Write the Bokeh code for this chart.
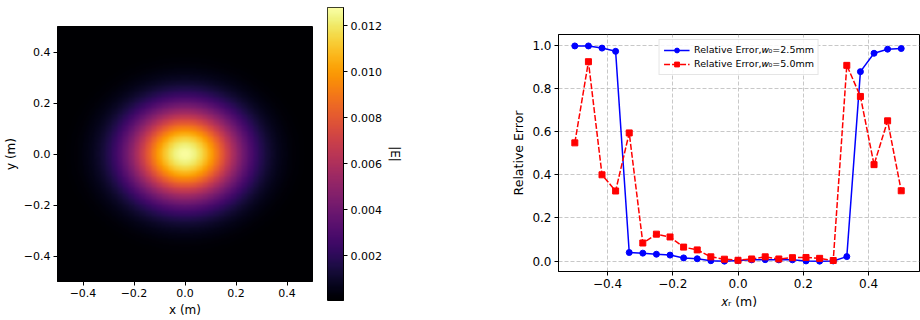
import numpy as np
from bokeh.plotting import figure
from bokeh.layouts import row, column
from bokeh.models import (Range1d, LinearColorMapper, FixedTicker, Legend)
from bokeh.palettes import Inferno256
from bokeh.embed import file_html
from bokeh.resources import INLINE

# ---- beam field parameters (|E| map) ----
field_peak = 0.0127
waist_x = 0.215
waist_y = 0.18
field_floor = 0.00005

# ---- relative error along x_r ----
x_r = [-0.5, -0.4583, -0.4167, -0.375, -0.3333, -0.2917, -0.25, -0.2083,
       -0.1667, -0.125, -0.0833, -0.0417, 0.0, 0.0417, 0.0833, 0.125,
       0.1667, 0.2083, 0.25, 0.2917, 0.3333, 0.375, 0.4167, 0.4583, 0.5]
err_w25 = [0.997, 0.997, 0.987, 0.972, 0.040, 0.037, 0.032, 0.028,
           0.015, 0.011, 0.002, 0.000, 0.003, 0.006, 0.007, 0.006,
           0.006, 0.001, 0.000, 0.001, 0.021, 0.878, 0.963, 0.982, 0.985]
err_w50 = [0.548, 0.924, 0.400, 0.325, 0.594, 0.084, 0.125, 0.112,
           0.065, 0.052, 0.020, 0.009, 0.004, 0.010, 0.020, 0.010,
           0.016, 0.017, 0.013, 0.003, 0.907, 0.763, 0.447, 0.650, 0.326]

map_ticks = [-0.4, -0.2, 0.0, 0.2, 0.4]
cbar_ticks = [0.002, 0.004, 0.006, 0.008, 0.010, 0.012]
err_x_ticks = [-0.4, -0.2, 0.0, 0.2, 0.4]
err_y_ticks = [0.0, 0.2, 0.4, 0.6, 0.8, 1.0]

FONT = "DejaVu Sans"


def fmt(v, nd=1):
    s = f"{v:.{nd}f}"
    return s.replace("-", "\u2212")


def style_axes(p, tick_size, label_size):
    for ax in list(p.xaxis) + list(p.yaxis):
        ax.major_label_text_font = FONT
        ax.major_label_text_font_size = tick_size
        ax.major_label_text_color = "black"
        ax.axis_label_text_font = FONT
        ax.axis_label_text_font_size = label_size
        ax.axis_label_text_font_style = "normal"
        ax.axis_label_text_color = "black"
        ax.axis_line_color = "black"
        ax.major_tick_line_color = "black"
        ax.major_tick_out = 4
        ax.major_tick_in = 0
        ax.minor_tick_line_color = None
        ax.major_label_standoff = 3
        ax.axis_label_standoff = 3
    p.outline_line_color = "black"
    p.outline_line_width = 1
    p.outline_line_alpha = 1.0


# ---- field map ----
gx = np.linspace(-0.5, 0.5, 300)
gy = np.linspace(-0.5, 0.5, 300)
XX, YY = np.meshgrid(gx, gy)
field = field_peak * np.exp(-(XX ** 2 / waist_x ** 2 + YY ** 2 / waist_y ** 2))

mapper = LinearColorMapper(palette=Inferno256, low=field_floor, high=field_peak + 0.0001)

p1 = figure(frame_width=255, frame_height=255,
            min_border_left=57, min_border_right=8,
            min_border_top=26, min_border_bottom=39,
            x_range=Range1d(-0.5, 0.5), y_range=Range1d(-0.5, 0.5),
            output_backend="svg", toolbar_location=None)
p1.image(image=[field], x=-0.5, y=-0.5, dw=1.0, dh=1.0, color_mapper=mapper)
p1.grid.visible = False
p1.xaxis.axis_label = "x (m)"
p1.yaxis.axis_label = "y (m)"
p1.xaxis.ticker = FixedTicker(ticks=map_ticks)
p1.yaxis.ticker = FixedTicker(ticks=map_ticks)
p1.xaxis.major_label_overrides = {t: fmt(t) for t in map_ticks}
p1.yaxis.major_label_overrides = {t: fmt(t) for t in map_ticks}
style_axes(p1, "11px", "12px")

# ---- colour bar ----
levels = np.linspace(field_floor, field_peak + 0.0001, 256).reshape(-1, 1)
p2 = figure(frame_width=16, frame_height=293,
            min_border_left=7, min_border_right=57,
            min_border_top=7, min_border_bottom=20,
            x_range=Range1d(0, 1), y_range=Range1d(field_floor, field_peak + 0.0001),
            y_axis_location="right",
            output_backend="svg", toolbar_location=None)
p2.image(image=[levels], x=0, y=field_floor, dw=1, dh=field_peak + 0.0001 - field_floor,
         color_mapper=mapper)
p2.grid.visible = False
p2.xaxis.visible = False
p2.yaxis.ticker = FixedTicker(ticks=cbar_ticks)
p2.yaxis.major_label_overrides = {t: fmt(t, 3) for t in cbar_ticks}
p2.yaxis.axis_label = "|E|"
style_axes(p2, "11px", "12px")

# ---- relative error curves ----
p3 = figure(frame_width=361, frame_height=237,
            min_border_left=154, min_border_right=5,
            min_border_top=34, min_border_bottom=49,
            x_range=Range1d(-0.55, 0.556), y_range=Range1d(-0.048, 1.05),
            output_backend="svg", toolbar_location=None)
lbl1 = "Relative Error,\U0001D464\u2080=2.5mm"
lbl2 = "Relative Error,\U0001D464\u2080=5.0mm"
l1 = p3.line(x_r, err_w25, line_color="blue", line_width=1.5)
m1 = p3.scatter(x_r, err_w25, marker="circle", size=6, fill_color="blue", line_color="blue")
l2 = p3.line(x_r, err_w50, line_color="red", line_width=1.5, line_dash="6 2")
m2 = p3.scatter(x_r, err_w50, marker="square", size=6, fill_color="red", line_color="red")
legend = Legend(items=[(lbl1, [l1, m1]), (lbl2, [l2, m2])], location="top_center")
legend.label_text_font = FONT
legend.label_text_font_size = "9.5px"
legend.label_text_color = "black"
legend.label_height = 12
legend.glyph_height = 12
legend.glyph_width = 26
legend.spacing = 2
legend.padding = 4
legend.margin = 5
legend.border_line_color = "#cccccc"
legend.background_fill_alpha = 0.85
p3.add_layout(legend)
p3.xgrid.grid_line_color = "#b0b0b0"
p3.ygrid.grid_line_color = "#b0b0b0"
p3.xgrid.grid_line_dash = "4 2"
p3.ygrid.grid_line_dash = "4 2"
p3.xgrid.grid_line_alpha = 0.7
p3.ygrid.grid_line_alpha = 0.7
p3.xaxis.ticker = FixedTicker(ticks=err_x_ticks)
p3.yaxis.ticker = FixedTicker(ticks=err_y_ticks)
p3.xaxis.major_label_overrides = {t: fmt(t) for t in err_x_ticks}
p3.yaxis.major_label_overrides = {t: fmt(t) for t in err_y_ticks}
p3.xaxis.axis_label = "\U0001D465\u1D63 (m)"
p3.yaxis.axis_label = "Relative Error"
style_axes(p3, "12px", "12.5px")

# each panel in its own column so their frames keep their own offsets
layout = row(column(p1), column(p2), column(p3))
open("out.html", "w").write(file_html(layout, INLINE))
